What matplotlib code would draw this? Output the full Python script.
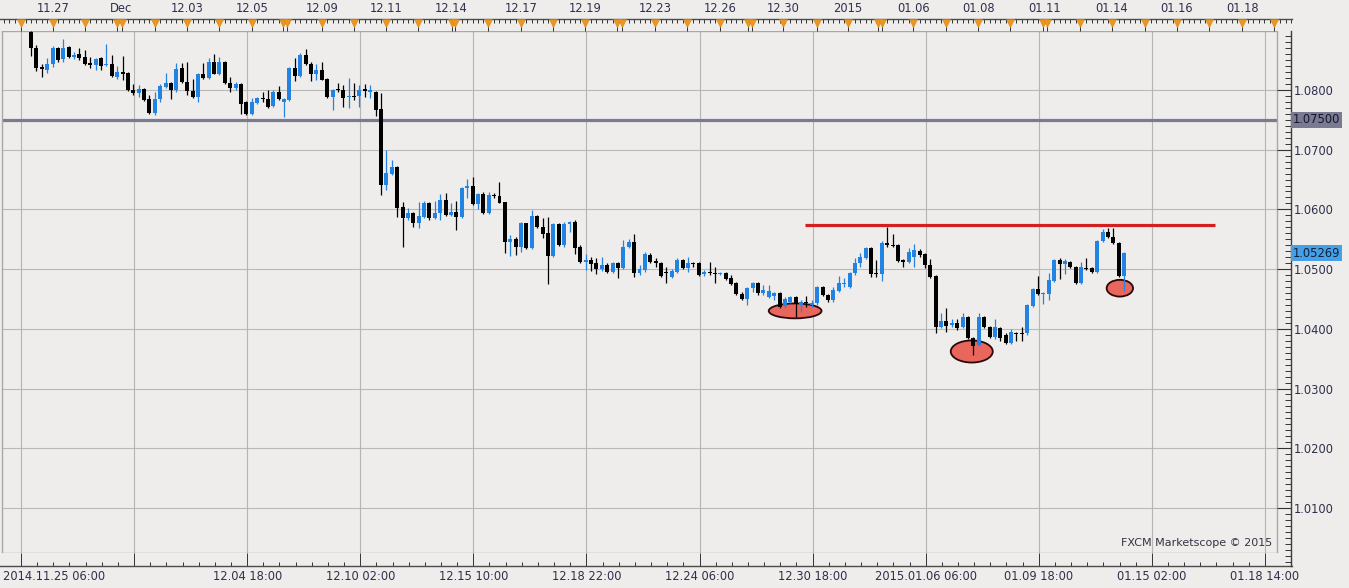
import numpy as np
import matplotlib
matplotlib.use("Agg")
import matplotlib.pyplot as plt
from matplotlib.patches import Ellipse
import matplotlib.transforms as mtransforms

# ---------------- data (EUR/USD 4h candles) ----------------
opens = [1.0897, 1.0870, 1.0839, 1.0834, 1.0844, 1.0870, 1.0852, 1.0872, 1.0855, 1.0860,
         1.0855, 1.0845, 1.0842, 1.0854, 1.0842, 1.0844, 1.0822, 1.0830, 1.0828, 1.0800,
         1.0795, 1.0802, 1.0785, 1.0761, 1.0785, 1.0805, 1.0812, 1.0800, 1.0837, 1.0813,
         1.0798, 1.0788, 1.0827, 1.0820, 1.0847, 1.0827, 1.0847, 1.0812, 1.0803, 1.0810,
         1.0780, 1.0760, 1.0778, 1.0787, 1.0785, 1.0773, 1.0797, 1.0780, 1.0783, 1.0837,
         1.0823, 1.0859, 1.0844, 1.0827, 1.0834, 1.0818, 1.0788, 1.0802, 1.0800, 1.0788,
         1.0790, 1.0790, 1.0802, 1.0797, 1.0797, 1.0768, 1.0641, 1.0659, 1.0671, 1.0604,
         1.0586, 1.0594, 1.0577, 1.0587, 1.0611, 1.0586, 1.0594, 1.0616, 1.0591, 1.0596,
         1.0587, 1.0636, 1.0639, 1.0609, 1.0626, 1.0594, 1.0624, 1.0622, 1.0612, 1.0545,
         1.0550, 1.0537, 1.0577, 1.0535, 1.0589, 1.0571, 1.0560, 1.0522, 1.0576, 1.0540,
         1.0576, 1.0579, 1.0537, 1.0512, 1.0515, 1.0510, 1.0500, 1.0507, 1.0495, 1.0510,
         1.0502, 1.0537, 1.0545, 1.0493, 1.0499, 1.0524, 1.0514, 1.0510, 1.0495, 1.0487,
         1.0495, 1.0515, 1.0502, 1.0510, 1.0510, 1.0492, 1.0495, 1.0493, 1.0492, 1.0493,
         1.0485, 1.0477, 1.0458, 1.0450, 1.0468, 1.0477, 1.0460, 1.0453, 1.0455, 1.0460,
         1.0438, 1.0445, 1.0453, 1.0440, 1.0445, 1.0440, 1.0443, 1.0470, 1.0457, 1.0448,
         1.0463, 1.0475, 1.0470, 1.0493, 1.0510, 1.0519, 1.0535, 1.0493, 1.0492, 1.0544,
         1.0540, 1.0540, 1.0515, 1.0512, 1.0520, 1.0530, 1.0525, 1.0507, 1.0488, 1.0403,
         1.0413, 1.0406, 1.0410, 1.0403, 1.0420, 1.0385, 1.0373, 1.0420, 1.0403, 1.0386,
         1.0401, 1.0390, 1.0376, 1.0393, 1.0393, 1.0393, 1.0438, 1.0467, 1.0458, 1.0458,
         1.0480, 1.0515, 1.0509, 1.0512, 1.0504, 1.0477, 1.0502, 1.0502, 1.0495, 1.0547,
         1.0562, 1.0554, 1.0544, 1.0488]
highs = [1.0899, 1.0875, 1.0844, 1.0854, 1.0874, 1.0872, 1.0885, 1.0874, 1.0864, 1.0870,
         1.0867, 1.0855, 1.0854, 1.0855, 1.0877, 1.0859, 1.0840, 1.0857, 1.0830, 1.0810,
         1.0808, 1.0803, 1.0792, 1.0797, 1.0810, 1.0828, 1.0813, 1.0845, 1.0845, 1.0847,
         1.0818, 1.0828, 1.0845, 1.0854, 1.0860, 1.0855, 1.0848, 1.0822, 1.0813, 1.0811,
         1.0782, 1.0787, 1.0788, 1.0797, 1.0800, 1.0800, 1.0807, 1.0787, 1.0839, 1.0854,
         1.0862, 1.0869, 1.0847, 1.0844, 1.0847, 1.0820, 1.0802, 1.0812, 1.0808, 1.0820,
         1.0812, 1.0808, 1.0810, 1.0808, 1.0798, 1.0795, 1.0700, 1.0683, 1.0672, 1.0612,
         1.0602, 1.0596, 1.0612, 1.0614, 1.0612, 1.0614, 1.0626, 1.0627, 1.0611, 1.0614,
         1.0638, 1.0651, 1.0654, 1.0627, 1.0629, 1.0629, 1.0627, 1.0646, 1.0613, 1.0557,
         1.0554, 1.0579, 1.0578, 1.0599, 1.0590, 1.0586, 1.0587, 1.0577, 1.0577, 1.0579,
         1.0581, 1.0582, 1.0540, 1.0525, 1.0520, 1.0519, 1.0520, 1.0510, 1.0512, 1.0512,
         1.0549, 1.0550, 1.0559, 1.0507, 1.0529, 1.0527, 1.0519, 1.0512, 1.0504, 1.0500,
         1.0519, 1.0517, 1.0520, 1.0512, 1.0512, 1.0499, 1.0512, 1.0504, 1.0495, 1.0495,
         1.0490, 1.0478, 1.0462, 1.0470, 1.0478, 1.0478, 1.0473, 1.0473, 1.0462, 1.0462,
         1.0453, 1.0455, 1.0455, 1.0448, 1.0455, 1.0448, 1.0472, 1.0472, 1.0458, 1.0470,
         1.0488, 1.0485, 1.0495, 1.0519, 1.0527, 1.0537, 1.0537, 1.0515, 1.0547, 1.0571,
         1.0559, 1.0542, 1.0517, 1.0535, 1.0542, 1.0534, 1.0527, 1.0517, 1.0490, 1.0426,
         1.0435, 1.0416, 1.0416, 1.0426, 1.0421, 1.0386, 1.0426, 1.0421, 1.0405, 1.0416,
         1.0403, 1.0393, 1.0400, 1.0395, 1.0403, 1.0442, 1.0468, 1.0488, 1.0462, 1.0493,
         1.0517, 1.0519, 1.0517, 1.0514, 1.0505, 1.0512, 1.0519, 1.0504, 1.0549, 1.0567,
         1.0569, 1.0569, 1.0545, 1.0529]
lows = [1.0857, 1.0832, 1.0822, 1.0828, 1.0839, 1.0847, 1.0847, 1.0853, 1.0852, 1.0850,
        1.0842, 1.0837, 1.0834, 1.0834, 1.0840, 1.0821, 1.0818, 1.0817, 1.0798, 1.0792,
        1.0788, 1.0782, 1.0759, 1.0758, 1.0780, 1.0804, 1.0785, 1.0797, 1.0812, 1.0792,
        1.0787, 1.0780, 1.0818, 1.0818, 1.0826, 1.0825, 1.0810, 1.0797, 1.0800, 1.0760,
        1.0758, 1.0758, 1.0777, 1.0780, 1.0770, 1.0771, 1.0783, 1.0755, 1.0782, 1.0815,
        1.0822, 1.0842, 1.0815, 1.0817, 1.0816, 1.0787, 1.0767, 1.0797, 1.0772, 1.0770,
        1.0783, 1.0772, 1.0788, 1.0787, 1.0756, 1.0624, 1.0633, 1.0658, 1.0587, 1.0537,
        1.0582, 1.0571, 1.0569, 1.0586, 1.0582, 1.0584, 1.0582, 1.0589, 1.0589, 1.0566,
        1.0586, 1.0619, 1.0607, 1.0601, 1.0593, 1.0593, 1.0619, 1.0610, 1.0527, 1.0522,
        1.0524, 1.0529, 1.0534, 1.0534, 1.0569, 1.0552, 1.0475, 1.0520, 1.0539, 1.0537,
        1.0562, 1.0525, 1.0510, 1.0499, 1.0497, 1.0492, 1.0497, 1.0493, 1.0493, 1.0485,
        1.0500, 1.0535, 1.0487, 1.0490, 1.0495, 1.0510, 1.0504, 1.0487, 1.0477, 1.0485,
        1.0493, 1.0500, 1.0495, 1.0504, 1.0488, 1.0488, 1.0490, 1.0477, 1.0490, 1.0482,
        1.0473, 1.0457, 1.0448, 1.0440, 1.0462, 1.0457, 1.0457, 1.0452, 1.0448, 1.0435,
        1.0435, 1.0443, 1.0420, 1.0428, 1.0437, 1.0437, 1.0440, 1.0455, 1.0445, 1.0445,
        1.0462, 1.0470, 1.0468, 1.0490, 1.0504, 1.0517, 1.0487, 1.0487, 1.0480, 1.0537,
        1.0537, 1.0512, 1.0504, 1.0510, 1.0504, 1.0520, 1.0502, 1.0485, 1.0393, 1.0401,
        1.0395, 1.0403, 1.0398, 1.0401, 1.0383, 1.0356, 1.0371, 1.0401, 1.0385, 1.0383,
        1.0380, 1.0375, 1.0375, 1.0380, 1.0380, 1.0390, 1.0437, 1.0457, 1.0442, 1.0448,
        1.0478, 1.0483, 1.0492, 1.0502, 1.0475, 1.0475, 1.0499, 1.0493, 1.0493, 1.0545,
        1.0552, 1.0542, 1.0487, 1.0463]
closes = [1.0870, 1.0837, 1.0835, 1.0844, 1.0870, 1.0850, 1.0870, 1.0855, 1.0859, 1.0854,
          1.0844, 1.0842, 1.0852, 1.0840, 1.0844, 1.0823, 1.0830, 1.0827, 1.0800, 1.0795,
          1.0802, 1.0783, 1.0761, 1.0785, 1.0807, 1.0812, 1.0800, 1.0835, 1.0813, 1.0798,
          1.0788, 1.0827, 1.0820, 1.0847, 1.0827, 1.0847, 1.0812, 1.0803, 1.0810, 1.0777,
          1.0760, 1.0780, 1.0787, 1.0785, 1.0772, 1.0797, 1.0785, 1.0785, 1.0837, 1.0823,
          1.0859, 1.0844, 1.0827, 1.0834, 1.0817, 1.0788, 1.0800, 1.0800, 1.0787, 1.0790,
          1.0788, 1.0800, 1.0798, 1.0800, 1.0767, 1.0641, 1.0661, 1.0671, 1.0602, 1.0586,
          1.0594, 1.0577, 1.0589, 1.0611, 1.0586, 1.0594, 1.0616, 1.0591, 1.0596, 1.0587,
          1.0636, 1.0639, 1.0609, 1.0626, 1.0594, 1.0624, 1.0622, 1.0611, 1.0545, 1.0550,
          1.0537, 1.0577, 1.0535, 1.0589, 1.0571, 1.0559, 1.0522, 1.0576, 1.0540, 1.0576,
          1.0579, 1.0535, 1.0512, 1.0515, 1.0509, 1.0500, 1.0507, 1.0495, 1.0510, 1.0502,
          1.0537, 1.0545, 1.0493, 1.0500, 1.0525, 1.0512, 1.0510, 1.0488, 1.0493, 1.0497,
          1.0515, 1.0502, 1.0510, 1.0509, 1.0490, 1.0495, 1.0493, 1.0492, 1.0493, 1.0483,
          1.0475, 1.0458, 1.0450, 1.0468, 1.0477, 1.0460, 1.0465, 1.0463, 1.0460, 1.0437,
          1.0450, 1.0453, 1.0442, 1.0445, 1.0443, 1.0443, 1.0470, 1.0457, 1.0448, 1.0465,
          1.0477, 1.0477, 1.0493, 1.0510, 1.0520, 1.0535, 1.0492, 1.0492, 1.0544, 1.0540,
          1.0539, 1.0514, 1.0512, 1.0529, 1.0532, 1.0524, 1.0507, 1.0487, 1.0403, 1.0413,
          1.0405, 1.0410, 1.0401, 1.0420, 1.0385, 1.0371, 1.0420, 1.0403, 1.0386, 1.0403,
          1.0385, 1.0376, 1.0395, 1.0391, 1.0391, 1.0440, 1.0467, 1.0458, 1.0460, 1.0482,
          1.0515, 1.0509, 1.0514, 1.0504, 1.0477, 1.0504, 1.0500, 1.0495, 1.0547, 1.0562,
          1.0554, 1.0544, 1.0488, 1.05269]

# day-start markers on the top ruler (bar positions) and the date labels above it
day_marks = [-1.9, 4.1, 10.0, 16.0, 16.9, 23.0, 29.0, 34.9, 41.0, 46.8, 47.5, 54.0, 60.0,
             65.9, 71.9, 78.2, 78.7, 84.9, 91.0, 96.9, 102.9, 108.8, 109.8, 115.9, 121.8,
             127.9, 133.1, 133.9, 139.6, 146.0, 151.7, 157.3, 158.0, 163.8, 169.9, 175.9,
             181.8, 187.9, 188.7, 194.8, 200.7, 206.9, 212.8, 218.8, 224.9, 230.8]
top_labels = ["11.27", "Dec", "12.03", "12.05", "12.09", "12.11", "12.14", "12.17", "12.19",
              "12.23", "12.26", "12.30", "2015", "01.06", "01.08", "01.11", "01.14", "01.16", "01.18"]
top_label_pos = [4.1, 16.7, 29.0, 41.0, 54.0, 65.9, 78.0, 91.0, 102.9, 115.9, 127.9, 139.6,
                 151.7, 163.8, 175.9, 188.3, 200.7, 212.8, 224.9]
bottom_labels = ["2014.11.25 06:00", "", "12.04 18:00", "12.10 02:00", "12.15 10:00",
                 "12.18 22:00", "12.24 06:00", "12.30 18:00", "2015.01.06 06:00",
                 "01.09 18:00", "01.15 02:00", "01.18 14:00"]
price_ticks = [1.01, 1.02, 1.03, 1.04, 1.05, 1.06, 1.07, 1.08]

level_line = 1.0750
resistance = 1.0574
resistance_start, resistance_end = 143.7, 219.9
last_price = 1.05269
ellipse_x = [141.9, 174.7, 202.2]
ellipse_y = [1.0430, 1.0362, 1.0468]
ellipse_w = [9.8, 7.8, 4.9]
ellipse_h = [0.0025, 0.0037, 0.0028]

# ---------------- layout ----------------
W, H = 1349, 588
BG = "#eeedeb"
TXT = "#2f2f4d"
BLUE = "#2283e2"
BLACK = "#000000"

BAR0_PX, BAR_PX = 31.0, 5.385          # pixel of bar 0 and pixels per bar
def bar_at(px):
    return (px - BAR0_PX) / BAR_PX
def price_at(py):
    return 1.08 - (py - 90.0) / 5970.0

PX_L, PX_R, PX_T, PX_B = 2, 1277, 31, 553

fig = plt.figure(figsize=(W / 100, H / 100), dpi=100, facecolor=BG)

ax = fig.add_axes([PX_L / W, 1 - PX_B / H, (PX_R - PX_L) / W, (PX_B - PX_T) / H])
ax.set_facecolor(BG)
ax.set_xlim(bar_at(PX_L), bar_at(PX_R))
ax.set_ylim(price_at(PX_B), price_at(PX_T))
ax.set_xticks([]); ax.set_yticks([])
for s in ax.spines.values():
    s.set_color("#a8a8a8"); s.set_linewidth(1.0)

grid_x = [bar_at(21) + 21 * k for k in range(12)]
for p in price_ticks:
    ax.axhline(p, color="#b9b9b9", lw=0.8, zorder=0.5)
for g in grid_x:
    ax.axvline(g, color="#b4b4b4", lw=0.8, zorder=0.5)

ax.axhline(level_line, color="#7c7a90", lw=2.3, zorder=1)

for cx, cy, ew, eh in zip(ellipse_x, ellipse_y, ellipse_w, ellipse_h):
    ax.add_patch(Ellipse((cx, cy), ew, eh, facecolor="#e8665c", edgecolor="#2a0808",
                         lw=1.3, zorder=2))

o = np.array(opens); h = np.array(highs); l = np.array(lows); c = np.array(closes)
x = np.arange(len(o))
cols = np.where(c >= o, BLUE, BLACK)
ax.vlines(x, l, h, colors=cols, lw=0.9, zorder=3)
ax.bar(x, np.maximum(np.abs(c - o), 0.00017), bottom=np.minimum(o, c), width=0.74,
       color=cols, lw=0, zorder=4)

ax.hlines(resistance, resistance_start, resistance_end, color="#d21f1f", lw=2.3, zorder=5)

ax.text((1272 - PX_L) / (PX_R - PX_L), (PX_B - 543) / (PX_B - PX_T),
        "FXCM Marketscope \u00a9 2015", transform=ax.transAxes, ha="right", va="center",
        fontsize=8, color="#333344")

# ---------------- top ruler ----------------
axT = fig.add_axes([0, 1 - PX_T / H, 1292 / W, 12 / H])
axT.set_facecolor(BG)
axT.set_xlim(bar_at(0), bar_at(1292)); axT.set_ylim(0, 1)
for k, s in axT.spines.items():
    s.set_visible(k == "top")
axT.spines["top"].set_color("#4a4a4a"); axT.spines["top"].set_linewidth(1.0)
axT.set_yticks([])
axT.set_xticks(np.arange(-5, 235), minor=True)
axT.set_xticks(day_marks)
axT.tick_params(axis="x", which="both", top=True, bottom=False, labeltop=False,
                labelbottom=False, direction="in", color="#333333", width=0.7)
axT.tick_params(axis="x", which="minor", length=3.2)
axT.tick_params(axis="x", which="major", length=8.5)
axT.plot(day_marks, [0.66] * len(day_marks), linestyle="none", marker="v", ms=5.8,
         color="#ee951b", mec="#d98512", mew=0.4, zorder=5, clip_on=False)
tT = mtransforms.blended_transform_factory(axT.transData, fig.transFigure)
for lab, pos in zip(top_labels, top_label_pos):
    axT.text(pos, 1 - 8.5 / H, lab, transform=tT, ha="center", va="center",
             fontsize=8.3, color=TXT)

# ---------------- bottom ruler ----------------
axB = fig.add_axes([0, 1 - 566 / H, 1292 / W, 13 / H])
axB.set_facecolor(BG)
axB.set_xlim(bar_at(0), bar_at(1292)); axB.set_ylim(0, 1)
for k, s in axB.spines.items():
    s.set_visible(k == "bottom")
axB.spines["bottom"].set_color("#4a4a4a"); axB.spines["bottom"].set_linewidth(1.0)
axB.set_yticks([])
axB.set_xticks(grid_x)
axB.set_xticks([grid_x[0] + 3 * k for k in range(78)], minor=True)
axB.tick_params(axis="x", which="both", bottom=True, labelbottom=False, direction="in",
                color="#333333", width=0.7)
axB.tick_params(axis="x", which="major", length=9.4)
axB.tick_params(axis="x", which="minor", length=3.2)
tB = mtransforms.blended_transform_factory(axB.transData, fig.transFigure)
for k, lab in enumerate(bottom_labels):
    if not lab:
        continue
    if k == 0:
        fig.text(3 / W, 1 - 576 / H, lab, ha="left", va="center", fontsize=8.3, color=TXT)
    else:
        axB.text(grid_x[k], 1 - 576 / H, lab, transform=tB, ha="center", va="center",
                 fontsize=8.3, color=TXT)

# ---------------- right price axis ----------------
axR = fig.add_axes([PX_R / W, 1 - 566 / H, 14 / W, (566 - PX_T) / H])
axR.patch.set_alpha(0)
axR.set_ylim(price_at(566), price_at(PX_T))
axR.set_xticks([])
for k, s in axR.spines.items():
    s.set_visible(k == "right")
axR.spines["right"].set_color("#3c3c3c"); axR.spines["right"].set_linewidth(1.0)
axR.yaxis.tick_right()
axR.set_yticks(price_ticks)
axR.set_yticklabels(["%.4f" % p for p in price_ticks])
axR.set_yticks(np.arange(1.001, 1.0895, 0.001), minor=True)
axR.tick_params(axis="y", which="major", direction="in", length=10.1, width=0.8,
                color="#333333", labelsize=8.3, labelcolor=TXT, pad=2)
axR.tick_params(axis="y", which="minor", direction="in", length=4.3, width=0.7,
                color="#333333")

tR = mtransforms.blended_transform_factory(fig.transFigure, axR.transData)
axR.text(1292.5 / W, level_line, "1.07500", transform=tR, ha="left", va="center",
         fontsize=8.3, color="#15152a",
         bbox=dict(boxstyle="square,pad=0.15", fc="#7b7a93", ec="none"))
axR.text(1292.5 / W, last_price, "%.5f" % last_price, transform=tR, ha="left",
         va="center", fontsize=8.3, color="#10203a",
         bbox=dict(boxstyle="square,pad=0.15", fc="#45a0e6", ec="none"))

fig.savefig("out.png", dpi=100, facecolor=BG)
